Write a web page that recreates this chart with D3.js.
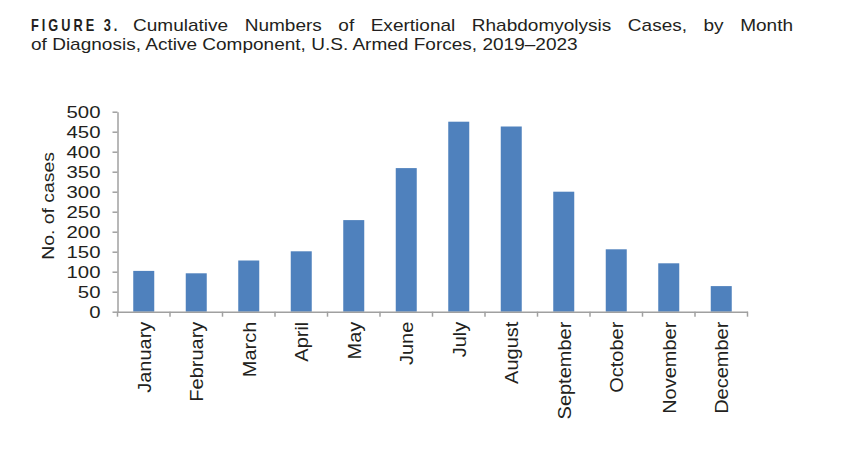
<!DOCTYPE html>
<html>
<head>
<meta charset="utf-8">
<script src="https://cdn.jsdelivr.net/npm/d3@7"></script>
<style>
  body { margin: 0; background: #fff; }
  text { fill: #231f20; font-family: "Liberation Sans", Arial, sans-serif; }
</style>
</head>
<body>
<div id="chart"></div>
<script>
const months = ['January', 'February', 'March', 'April', 'May', 'June', 'July',
  'August', 'September', 'October', 'November', 'December'];
const cases = [102, 96, 128, 151, 229, 359, 475, 463, 300, 156, 121, 64];
const yTicks = [0, 50, 100, 150, 200, 250, 300, 350, 400, 450, 500];

const titleLabel = 'FIGURE 3.';
const titleLine1 = 'Cumulative Numbers of Exertional Rhabdomyolysis Cases, by Month';
const titleLine2 = 'of Diagnosis, Active Component, U.S. Armed Forces, 2019–2023';
const yTitle = 'No. of cases';

const svgWidth = 850, svgHeight = 463;
const margin = { top: 111.7, left: 117.5 };
const width = 630, height = 200;

const svg = d3.select('#chart').append('svg')
  .attr('width', svgWidth)
  .attr('height', svgHeight);

// title: condensed bold label, then a justified first line
svg.append('text')
  .attr('transform', 'translate(31, 31) scale(0.75, 1)')
  .style('font-size', '17px')
  .style('font-weight', 'bold')
  .style('letter-spacing', '4px')
  .text(titleLabel);

const sx = 1.12;
const line1 = svg.append('text')
  .attr('transform', `translate(133, 31) scale(${sx}, 1)`)
  .style('font-size', '17px')
  .text(titleLine1);

const target = (793 - 133) / sx;
const natural = line1.node().getComputedTextLength();
const spaces = titleLine1.split(' ').length - 1;
line1.style('word-spacing', `${(target - natural) / spaces}px`);

svg.append('text')
  .attr('transform', `translate(31, 50) scale(${sx}, 1)`)
  .style('font-size', '17px')
  .text(titleLine2);

const chart = svg.append('g')
  .attr('transform', `translate(${margin.left}, ${margin.top})`);

const xScale = d3.scaleBand()
  .domain(months)
  .range([0, width])
  .paddingInner(0.6)
  .paddingOuter(0.3);

const yScale = d3.scaleLinear()
  .domain([0, 500])
  .range([height, 0]);

chart.selectAll()
  .data(months)
  .enter()
  .append('rect')
  .attr('x', (d, i) => xScale(d))
  .attr('y', (d, i) => yScale(cases[i]))
  .attr('width', xScale.bandwidth())
  .attr('height', (d, i) => height - yScale(cases[i]))
  .attr('fill', '#4f81bd');

// y axis
const yAxis = chart.append('g')
  .call(d3.axisLeft(yScale).tickValues(yTicks).tickSize(5).tickSizeOuter(0));
yAxis.selectAll('text')
  .attr('x', null)
  .attr('dy', '0.36em')
  .attr('transform', 'translate(-17, 0) scale(1.25, 1)')
  .style('font-size', '16.3px');

// x axis: ticks on band edges
const step = xScale.step();
const xAxis = chart.append('g')
  .attr('transform', `translate(0, ${height})`)
  .call(d3.axisBottom(xScale).tickSize(0).tickSizeOuter(0));
xAxis.selectAll('.tick text')
  .attr('x', 0)
  .attr('y', 0)
  .attr('dy', '0.35em')
  .attr('text-anchor', 'end')
  .attr('transform', 'translate(0.5, 10) rotate(-90) scale(1.08, 1)')
  .style('font-size', '18.5px');
xAxis.selectAll('.edge')
  .data(d3.range(months.length + 1))
  .enter()
  .append('line')
  .attr('x1', d => d * step)
  .attr('x2', d => d * step)
  .attr('y1', 0)
  .attr('y2', 5);

svg.selectAll('.domain, g line')
  .attr('stroke', '#a0a0a0')
  .attr('stroke-width', 1.5);

chart.append('text')
  .attr('transform', 'translate(-63.5, 94.3) rotate(-90) scale(1.14, 1)')
  .attr('text-anchor', 'middle')
  .style('font-size', '17px')
  .text(yTitle);
</script>
</body>
</html>
